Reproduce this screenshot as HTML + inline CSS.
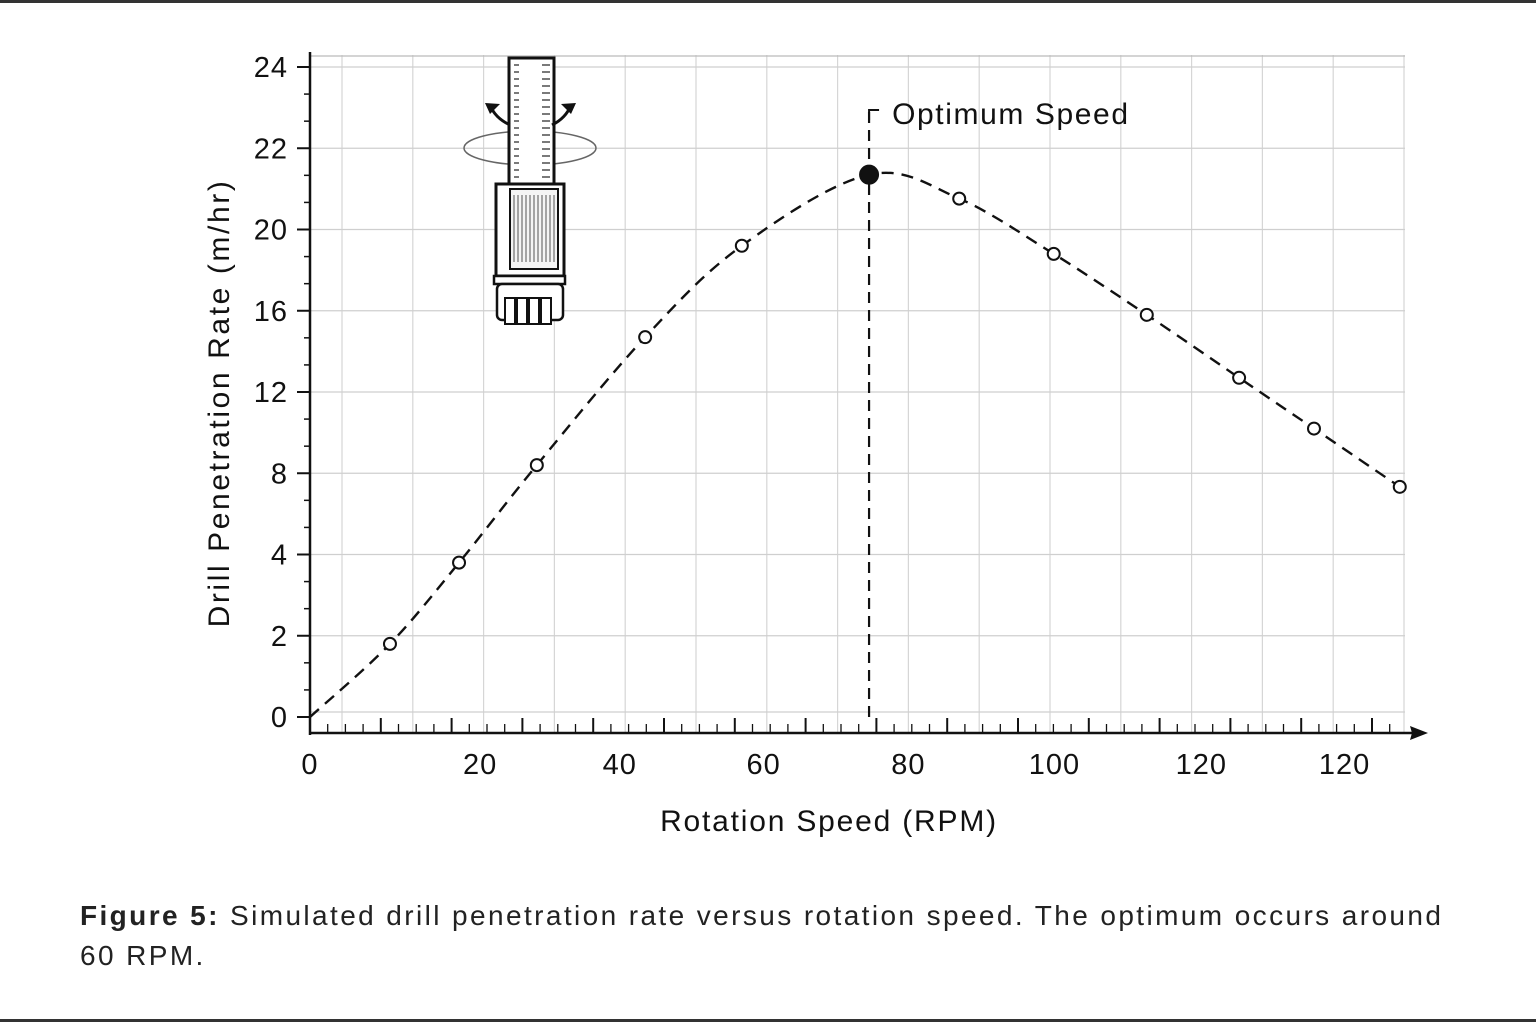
<!DOCTYPE html>
<html><head><meta charset="utf-8"><style>
body{margin:0;background:#fff;width:1536px;height:1024px;overflow:hidden;font-family:"Liberation Sans","DejaVu Sans",sans-serif}
#wrap{position:relative;width:1536px;height:1024px}
.cap{position:absolute;left:80px;top:896px;font-size:28px;letter-spacing:2.4px;color:#222;line-height:40px;width:1440px;white-space:nowrap}
</style></head><body>
<div id="wrap">
<div style="position:absolute;left:0;top:0;width:1536px;height:3px;background:#333"></div>
<div style="position:absolute;left:0;top:1019px;width:1536px;height:3px;background:#333"></div>
<svg id="chart" width="1536" height="1024" style="position:absolute;left:0;top:0"></svg>
<div class="cap"><b>Figure 5:</b> Simulated drill penetration rate versus rotation speed. The optimum occurs around<br>60 RPM.</div>
</div>
<script>
const xVals=[11,20.5,31.2,46.1,59.4,76.9,89.3,102.3,115.1,127.8,138.1,149.9];
const yVals=[1.8,3.8,8.4,14.7,19.2,21.35,20.76,18.8,15.8,12.7,10.2,7.33];
const optimumIndex=5;
const yTicks=[0,2,4,8,12,16,20,22,24];
const xTickVals=[0,23.4,42.6,62.4,82.3,102.4,122.6,142.3];
const xTickLabels=['0','20','40','60','80','100','120','120'];
const NS='http://www.w3.org/2000/svg';
const svg=document.getElementById('chart');
function X(v){return 310+v*7.27;}
function Y(v){const top=67,bot=717,step=(bot-top)/(yTicks.length-1);
 for(let i=0;i<yTicks.length-1;i++){if(v<=yTicks[i+1]||i==yTicks.length-2){const t=(v-yTicks[i])/(yTicks[i+1]-yTicks[i]);return bot-(i+t)*step;}}}
function mk(tag,attrs,name,parent){const e=document.createElementNS(NS,tag);for(const k in attrs)e.setAttribute(k,attrs[k]);
 
 
 (parent||svg).appendChild(e);return e;}
for(let x=342;x<=1405;x+=70.8){mk('line',{x1:x,y1:55,x2:x,y2:733,stroke:'#d6d6d6','stroke-width':1.2},'grid-v');}
yTicks.forEach(t=>{const y=Y(t);mk('line',{x1:310,y1:t==0?712:y,x2:1405,y2:t==0?712:y,stroke:'#cfcfcf','stroke-width':1.3},'grid-h');});
mk('line',{x1:310,y1:56,x2:1405,y2:56,stroke:'#bbb','stroke-width':1.3},'grid-top');
mk('line',{x1:310,y1:52,x2:310,y2:735,stroke:'#111','stroke-width':2.5},'y-axis');
yTicks.forEach((t,i)=>{const y=Y(t);mk('line',{x1:297,y1:y,x2:310,y2:y,stroke:'#111','stroke-width':2},'y-tick');
 if(i<yTicks.length-1){for(let k=1;k<3;k++){const yy=y-(k*(Y(0)-Y(2))/3);mk('line',{x1:304,y1:yy,x2:310,y2:yy,stroke:'#111','stroke-width':1.5},'y-minor-tick');}}
 const tx=mk('text',{x:288,y:y+10,'text-anchor':'end','font-size':29,'letter-spacing':1,fill:'#111'},'y-tick-label');tx.textContent=t;});
mk('line',{x1:310,y1:733,x2:1418,y2:733,stroke:'#111','stroke-width':2.5},'x-axis');
mk('path',{d:'M1428 733 L1410 726 L1412 733 L1410 740 Z',fill:'#111'},'x-axis-arrow');
for(let x=310,i=0;x<1405;x+=17.7,i++){const maj=i%4==0;mk('line',{x1:x,y1:maj?718:724,x2:x,y2:733,stroke:'#111','stroke-width':maj?2:1.3},'x-tick');}
xTickVals.forEach((v,i)=>{const t=mk('text',{x:X(v),y:774,'text-anchor':'middle','font-size':29,'letter-spacing':1,fill:'#111'},'x-tick-label');t.textContent=xTickLabels[i];});
let t=mk('text',{x:829,y:831,'text-anchor':'middle','font-size':30,'letter-spacing':1.8,fill:'#111'},'x-axis-title');t.textContent='Rotation Speed (RPM)';
t=mk('text',{x:0,y:0,'text-anchor':'middle','font-size':30,'letter-spacing':2.6,fill:'#111',transform:'translate(229,403) rotate(-90)'},'y-axis-title');t.textContent='Drill Penetration Rate (m/hr)';
const ox=X(xVals[optimumIndex]);
mk('line',{x1:ox,y1:112,x2:ox,y2:717,stroke:'#111','stroke-width':2.2,'stroke-dasharray':'11 7'},'optimum-line');
mk('path',{d:`M${ox} 120 L${ox} 110 L${ox+10} 110`,fill:'none',stroke:'#111','stroke-width':2},'optimum-bracket');
t=mk('text',{x:ox+23,y:124,'font-size':30,'letter-spacing':1.6,fill:'#111'},'optimum-label');t.textContent='Optimum Speed';
const pts=[[X(0),Y(0)]].concat(xVals.map((v,i)=>[X(v),Y(yVals[i])]));
let d=`M${pts[0][0]} ${pts[0][1]}`;
for(let i=0;i<pts.length-1;i++){const p0=pts[Math.max(0,i-1)],p1=pts[i],p2=pts[i+1],p3=pts[Math.min(pts.length-1,i+2)];
 d+=` C${p1[0]+(p2[0]-p0[0])/6} ${p1[1]+(p2[1]-p0[1])/6} ${p2[0]-(p3[0]-p1[0])/6} ${p2[1]-(p3[1]-p1[1])/6} ${p2[0]} ${p2[1]}`;}
mk('path',{d:d,fill:'none',stroke:'#111','stroke-width':2.4,'stroke-dasharray':'12 8'},'rate-curve');
xVals.forEach((v,i)=>{const f=i==optimumIndex;mk('circle',{cx:X(v),cy:Y(yVals[i]),r:f?9:6,fill:f?'#111':'#fff',stroke:'#111','stroke-width':2},f?'optimum-point':'data-point');});
const g=mk('g',{},'drill-illustration');
mk('ellipse',{cx:530,cy:148,rx:66,ry:17,fill:'none',stroke:'#666','stroke-width':1.5},'rotation-ring',g);
mk('rect',{x:509,y:58,width:45,height:126,fill:'#fff',stroke:'#111','stroke-width':3},'drill-shaft',g);
for(let y=65;y<180;y+=7){mk('line',{x1:514,y1:y,x2:519,y2:y,stroke:'#333','stroke-width':1.3},'shaft-mark',g);mk('line',{x1:542,y1:y,x2:550,y2:y,stroke:'#333','stroke-width':1.3},'shaft-mark',g);}
mk('rect',{x:496,y:184,width:68,height:92,fill:'#fff',stroke:'#111','stroke-width':3},'drill-body',g);
mk('rect',{x:510,y:189,width:48,height:80,fill:'#f4f4f4',stroke:'#111','stroke-width':2},'drill-window',g);
for(let x=514;x<556;x+=4){mk('line',{x1:x,y1:195,x2:x,y2:262,stroke:'#555','stroke-width':1},'window-line',g);}
mk('rect',{x:494,y:276,width:71,height:8,fill:'#fff',stroke:'#111','stroke-width':2.5},'drill-collar',g);
mk('rect',{x:497,y:284,width:66,height:36,rx:5,fill:'#fff',stroke:'#111','stroke-width':2.5},'drill-bit',g);
[510,522,534,546].forEach(x=>mk('rect',{x:x-5,y:298,width:10,height:26,fill:'#fff',stroke:'#111','stroke-width':2},'bit-tooth',g));
mk('path',{d:'M510 125 Q495 118 490 105',fill:'none',stroke:'#111','stroke-width':3},'arrow-left',g);
mk('path',{d:'M485 103 L500 104 L490 114 Z',fill:'#111'},'arrow-left-head',g);
mk('path',{d:'M552 125 Q566 118 571 105',fill:'none',stroke:'#111','stroke-width':3},'arrow-right',g);
mk('path',{d:'M576 103 L561 104 L571 114 Z',fill:'#111'},'arrow-right-head',g);
</script>
</body></html>
